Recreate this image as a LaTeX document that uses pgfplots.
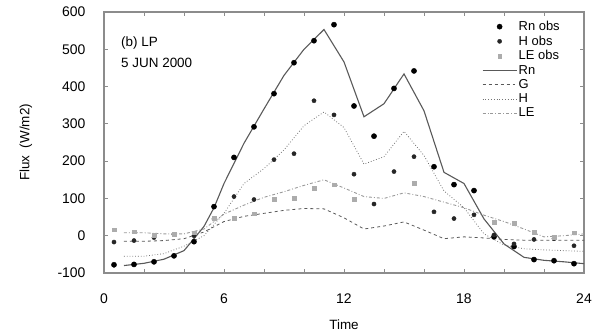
\documentclass[border=0pt]{standalone}
\usepackage{pgfplots}
\pgfplotsset{compat=1.18}
\usepackage{pgfplotstable}
\usepackage{fontspec}
\setmainfont{Liberation Sans}
\definecolor{axgray}{gray}{0.55}
\definecolor{rncol}{gray}{0.35}
\definecolor{gcol}{gray}{0.35}
\definecolor{hcol}{gray}{0.45}
\definecolor{lecol}{gray}{0.6}
\pgfplotsset{
  linelegend/.style={legend image code/.code={\draw[##1] (0cm,0cm) -- (1.2cm,0cm);}},
  obslegend/.style={legend image code/.code={\draw[##1] plot coordinates {(0.6cm,0cm)};}},
}

\pgfplotstableread{
t v
0.5 -78
1.5 -77
2.5 -70
3.5 -54
4.5 -16
5.5 78
6.5 210
7.5 292
8.5 381
9.5 464
10.5 523
11.5 566
12.5 348
13.5 267
14.5 395
15.5 442
16.5 185
17.5 137
18.5 121
19.5 -3
20.5 -29
21.5 -64
22.5 -67
23.5 -75
}\rnobs
\pgfplotstableread{
t v
0.5 -17
1.5 -13
2.5 -5
3.5 3
4.5 0
5.5 45
6.5 105
7.5 97
8.5 204
9.5 220
10.5 362
11.5 324
12.5 165
13.5 85
14.5 172
15.5 212
16.5 64
17.5 46
18.5 56
19.5 2
20.5 -22
21.5 -10
22.5 -8
23.5 -27
}\hobs
\pgfplotstableread{
t v
0.5 16
1.5 11
2.5 2
3.5 5
4.5 8
5.5 48
6.5 46
7.5 59
8.5 97
9.5 100
10.5 128
11.5 137
12.5 97
15.5 140
19.5 37
20.5 34
21.5 10
22.5 -5
23.5 8
}\leobs

\begin{document}
\begin{tikzpicture}[font=\fontsize{13.5}{15}\selectfont]
\begin{axis}[
  scale only axis,
  width=480bp, height=261bp,
  xmin=0, xmax=24, ymin=-100, ymax=600,
  xtick={0,6,12,18,24},
  minor xtick={2,4,8,10,14,16,20,22},
  ytick={-100,0,100,200,300,400,500,600},
  tick align=inside,
  major tick length=4bp, minor tick length=4bp,
  axis line style={axgray, line width=1.6bp},
  every tick/.style={axgray, line width=0.8bp},
  /pgf/number format/assume math mode=true,
  ticklabel style={font=\fontsize{14}{16}\selectfont},
  yticklabel style={xshift=-15bp},
  xticklabel style={yshift=-17bp},
  xlabel={Time}, ylabel={Flux\ \ (W/m2)},
  xlabel style={at={(axis description cs:0.5,-0.199)}, anchor=center, inner sep=0pt},
  ylabel style={at={(axis description cs:-0.1625,0.5)}, anchor=center, inner sep=0pt},
  legend style={at={(0.955,0.975)}, anchor=north east, draw=none, fill=none,
    font=\fontsize{13}{14}\selectfont, row sep=0.8bp, inner sep=1pt,
    nodes={inner sep=1.5pt}},
  legend cell align=left,
]
\addplot[only marks, mark=*, mark size=2.6bp, black, obslegend]
  table[x=t,y=v]{\rnobs};
\addlegendentry{Rn obs}
\addplot[only marks, mark=*, mark size=2.1bp, black!85, obslegend]
  table[x=t,y=v]{\hobs};
\addlegendentry{H obs}
\addplot[only marks, mark=square*, mark size=1.9bp, gray!65, obslegend]
  table[x=t,y=v]{\leobs};
\addlegendentry{LE obs}
\addplot[rncol, line width=1.1bp, linelegend] coordinates {
(1,-80)(2,-74)(3,-63)(4,-40)(4.5,-8)(5,25)(5.5,75)(6,140)(7,248)(8,340)(9,430)(10,500)(11,553)(12,466)(13,319)(14,354)(15,434)(16,335)(17,170)(18,140)(19,45)(20,-22)(21,-58)(22,-66)(23,-70)(24,-75)};
\addlegendentry{Rn}
\addplot[gcol, line width=0.8bp, dashed, linelegend] coordinates {
(1,-15)(2,-15)(3,-13)(4,-8)(5,10)(6,38)(7,52)(8,60)(9,68)(10,73)(11,72)(12,48)(13,18)(14,26)(15,37)(16,15)(17,-8)(18,-3)(19,-6)(20,-10)(21,-12)(22,-12)(23,-12)(24,-12)};
\addlegendentry{G}
\addplot[hcol, line width=0.8bp, dotted, linelegend] coordinates {
(1,-55)(2,-55)(3,-48)(4,-28)(5,0)(6,60)(7,140)(8,180)(9,230)(10,295)(11,332)(12,290)(13,192)(14,212)(15,280)(16,215)(17,120)(18,75)(19,5)(20,-25)(21,-35)(22,-38)(23,-40)(24,-42)};
\addlegendentry{H}
\addplot[lecol, line width=0.9bp, dash dot, linelegend] coordinates {
(1,8)(2,8)(3,5)(4,5)(5,18)(6,58)(7,82)(8,103)(9,118)(10,135)(11,150)(12,128)(13,105)(14,100)(15,115)(16,105)(17,90)(18,75)(19,55)(20,38)(21,18)(22,-3)(23,0)(24,5)};
\addlegendentry{LE}
\node[anchor=west, inner sep=0pt] at (axis cs:0.85,517) {(b) LP};
\node[anchor=west, inner sep=0pt] at (axis cs:0.85,464) {5 JUN 2000};
\end{axis}
\useasboundingbox ([xshift=-104bp,yshift=-63bp]current axis.south west) rectangle ([xshift=21bp,yshift=12bp]current axis.north east);
\end{tikzpicture}
\end{document}
